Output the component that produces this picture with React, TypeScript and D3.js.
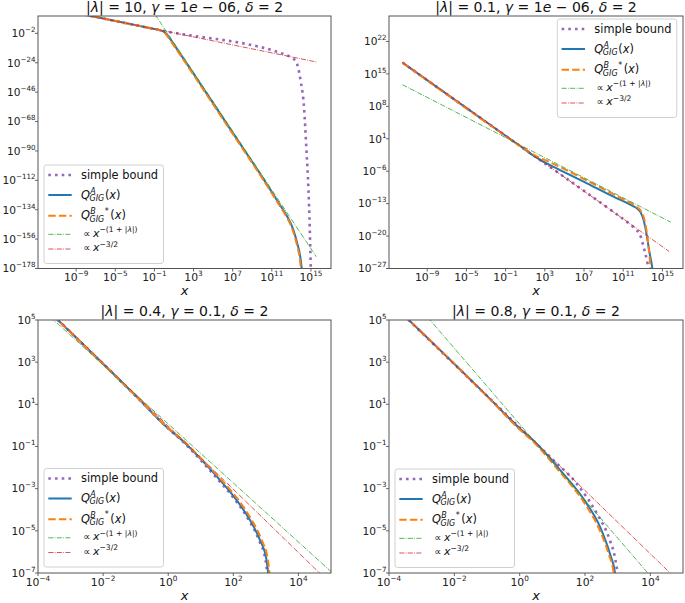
import React from 'react';
import * as d3 from 'd3';

type P = [number, number];

// All points are [log10(x), log10(y)].
// Panel 1: |λ| = 10, γ = 1e-06, δ = 2
const p1Simple: P[] = [[-11.56, 17.1], [0, -0.2], [12.95, -19.6], [13.3, -21.6], [13.62, -25.7], [13.96, -38.2], [14.3, -58.1], [14.53, -88.1], [14.74, -118], [14.88, -148], [14.98, -178], [15.05, -200]];
const p1QA: P[] = [[-11.56, 17.13], [-1.5, 2.05], [-1, 1.3], [-0.5, 0.4], [0, -0.9], [0.3, -3.1], [0.6, -6.1], [1, -10.4], [6.67, -72.7], [10.05, -109.9], [11.75, -129.5], [12.6, -139.5], [13.1, -147], [13.6, -159], [13.96, -172], [14.1, -182], [14.2, -195]];
const p1QB: P[] = [[-11.56, 17.13], [-1.5, 2.05], [-1, 1.3], [-0.55, 0.4], [-0.08, -0.9], [0.22, -3.1], [0.52, -6.1], [0.92, -10.4], [6.59, -72.7], [9.97, -109.9], [11.67, -129.5], [12.52, -139.5], [13.02, -147], [13.52, -159], [13.88, -172], [14.02, -182], [14.12, -195]];
const p1Green: P[] = [[-11.56, 129], [15.55, -169.2]];
const p1Red: P[] = [[-11.56, 17.1], [15.55, -23.4]];

// Panel 2: |λ| = 0.1, γ = 1e-06, δ = 2
const p2Simple: P[] = [[-11.53, 17.45], [0, 0.15], [10.5, -15.55], [11.5, -17.1], [12.1, -18.2], [12.8, -20.2], [13.1, -22.5], [13.45, -25.6], [13.65, -28], [13.8, -31]];
const p2QA: P[] = [[-11.53, 17.45], [0, 0.15], [1.0, -1.35], [1.87, -2.7], [3, -4.1], [4.5, -5.7], [7, -8.3], [10, -11.5], [12, -13.55], [12.5, -14.2], [12.8, -15.0], [13.05, -16.3], [13.3, -18.6], [13.63, -22.9], [13.97, -26.9], [14.1, -29]];
const p2QB: P[] = [[-11.53, 17.45], [0, 0.15], [1.0, -1.3], [1.87, -2.45], [3, -3.55], [5, -5.55], [8, -8.8], [11, -12.1], [12.3, -13.6], [12.8, -14.6], [13.1, -16.0], [13.46, -20.0], [13.8, -26.85], [13.9, -29]];
const p2Green: P[] = [[-11.53, 12.67], [15.85, -17.0]];
const p2Red: P[] = [[-11.53, 17.5], [15.67, -23.3]];

// Panel 3: |λ| = 0.4, γ = 0.1, δ = 2
const p3Simple: P[] = [[-4, 5.9], [-1, 1.4], [0, -0.15], [0.46, -0.78], [1.0, -1.65], [1.56, -2.62], [2.07, -3.56], [2.48, -4.5], [2.79, -5.45], [2.99, -6.4], [3.04, -7.02], [3.07, -7.6]];
const p3QA: P[] = [[-4, 5.9], [-1, 1.4], [0, -0.15], [0.46, -0.75], [1.0, -1.6], [1.59, -2.59], [2.1, -3.54], [2.51, -4.49], [2.82, -5.44], [3.02, -6.39], [3.07, -7.02], [3.1, -7.6]];
const p3QB: P[] = [[-4, 5.9], [-1, 1.4], [0, -0.13], [0.46, -0.72], [1.0, -1.56], [1.62, -2.56], [2.14, -3.5], [2.55, -4.45], [2.86, -5.4], [3.06, -6.37], [3.11, -7.02], [3.14, -7.6]];
const p3Green: P[] = [[-4, 5.67], [5, -6.93]];
const p3Red: P[] = [[-4, 5.97], [5, -7.53]];

// Panel 4: |λ| = 0.8, γ = 0.1, δ = 2
const p4Simple: P[] = [[-4, 5.9], [-1, 1.4], [0, -0.1], [1.0, -1.6], [1.74, -2.75], [2.36, -4.17], [2.76, -5.44], [2.92, -6.3], [2.99, -7.02], [3.02, -7.6]];
const p4QA: P[] = [[-4, 5.9], [-1, 1.4], [0, -0.15], [0.42, -0.72], [1.24, -2.12], [2.05, -3.7], [2.46, -4.81], [2.76, -6.07], [2.92, -7.02], [2.96, -7.6]];
const p4QB: P[] = [[-4, 5.9], [-1, 1.38], [0, -0.2], [0.42, -0.78], [1.2, -2.15], [2.0, -3.72], [2.41, -4.83], [2.72, -6.08], [2.88, -7.02], [2.92, -7.6]];
const p4Green: P[] = [[-4, 7.26], [5, -8.94]];
const p4Red: P[] = [[-4, 5.91], [5, -7.59]];

// Tick exponents
const topXTicks = [-9, -5, -1, 3, 7, 11, 15];
const p1YTicks = [-178, -156, -134, -112, -90, -68, -46, -24, -2];
const p2YTicks = [-27, -20, -13, -6, 1, 8, 15, 22];
const botXTicks = [-4, -2, 0, 2, 4];
const botYTicks = [-7, -5, -3, -1, 1, 3, 5];

// Titles: |λ|, γ, δ
const titleLambda = ['10', '0.1', '0.4', '0.8'];
const titleGamma = [['1', '06'], ['1', '06'], ['0.1', null], ['0.1', null]];
const titleDelta = ['2', '2', '2', '2'];

const FONT = "'DejaVu Sans', 'Liberation Sans', sans-serif";
const C = { simple: '#9467bd', qa: '#1f77b4', qb: '#ff7f0e', green: '#2ca02c', red: '#d62728' };

const STYLE: Record<string, { color: string; width: number; dash?: string }> = {
  simple: { color: C.simple, width: 2.6, dash: '2.6 4.1' },
  qa: { color: C.qa, width: 2 },
  qb: { color: C.qb, width: 2, dash: '7.4 3.2' },
  green: { color: C.green, width: 0.8, dash: '5.1 1.3 0.8 1.3' },
  red: { color: C.red, width: 0.8, dash: '5.1 1.3 0.8 1.3' },
};

interface Cfg {
  idx: number;
  left: number; right: number; top: number; bottom: number;
  xDom: [number, number]; yDom: [number, number];
  xTicks: number[]; yTicks: number[];
  legend: [number, number];
  series: Record<string, P[]>;
}

const panels: Cfg[] = [
  { idx: 0, left: 38, right: 331, top: 16, bottom: 268.5, xDom: [-12.9, 17.05], yDom: [-178, 11], xTicks: topXTicks, yTicks: p1YTicks, legend: [44, 165], series: { simple: p1Simple, qa: p1QA, qb: p1QB, green: p1Green, red: p1Red } },
  { idx: 1, left: 389, right: 683, top: 16, bottom: 268.5, xDom: [-12.9, 17.1], yDom: [-27, 27.5], xTicks: topXTicks, yTicks: p2YTicks, legend: [557.3, 19], series: { simple: p2Simple, qa: p2QA, qb: p2QB, green: p2Green, red: p2Red } },
  { idx: 2, left: 38, right: 331, top: 320, bottom: 573, xDom: [-4, 5], yDom: [-7, 5], xTicks: botXTicks, yTicks: botYTicks, legend: [44, 468.5], series: { simple: p3Simple, qa: p3QA, qb: p3QB, green: p3Green, red: p3Red } },
  { idx: 3, left: 389, right: 683, top: 320, bottom: 573, xDom: [-4, 5], yDom: [-7, 5], xTicks: botXTicks, yTicks: botYTicks, legend: [395, 469], series: { simple: p4Simple, qa: p4QA, qb: p4QB, green: p4Green, red: p4Red } },
];

const supText = (e: number) => (e < 0 ? '\u2212' + Math.abs(e) : String(e));

function Title({ cfg }: { cfg: Cfg }) {
  const cx = (cfg.left + cfg.right) / 2;
  const g = titleGamma[cfg.idx];
  return (
    <text x={cx} y={cfg.top - 4.5} textAnchor="middle" fontSize={14} fill="#111">
      |<tspan fontStyle="italic">λ</tspan>| = {titleLambda[cfg.idx]}, <tspan fontStyle="italic">γ</tspan> = {g[0]}
      {g[1] ? <tspan fontStyle="italic">e</tspan> : null}
      {g[1] ? ` \u2212 ${g[1]}` : ''}, <tspan fontStyle="italic">δ</tspan> = {titleDelta[cfg.idx]}
    </text>
  );
}

function QLabel({ x, y, sup, star }: { x: number; y: number; sup: string; star: boolean }) {
  // Q^{sup}_{GIG}[^*](x) as one text run
  const supW = 5.5;
  return (
    <text x={x} y={y} fontSize={11.4} fill="#111">
      <tspan fontStyle="italic">Q</tspan>
      <tspan dx={0.3} dy={-5} fontSize={8} fontStyle="italic">{sup}</tspan>
      <tspan dx={-supW - 0.7} dy={7.3} fontSize={8} fontStyle="italic">GIG</tspan>
      {star ? <tspan dx={0.5} dy={-7.8} fontSize={8}>*</tspan> : null}
      <tspan dx={star ? 1.5 : 0.6} dy={star ? 5.5 : -2.3}>(</tspan>
      <tspan fontStyle="italic">x</tspan>
      <tspan>)</tspan>
    </text>
  );
}

function Legend({ x0, y0 }: { x0: number; y0: number }) {
  const w = 119.5, h = 98.5;
  const hx1 = x0 + 4.3, hx2 = x0 + 27.7;
  const tx = x0 + 37;
  const rows = [y0 + 10, y0 + 30, y0 + 50.7, y0 + 69.3, y0 + 84];
  const keys = ['simple', 'qa', 'qb', 'green', 'red'];
  return (
    <g>
      <rect x={x0} y={y0} width={w} height={h} rx={2.5} fill="#ffffff" fillOpacity={0.85} stroke="#cccccc" strokeWidth={0.9} />
      {keys.map((k, i) => (
        <line key={k} x1={hx1} x2={hx2} y1={rows[i]} y2={rows[i]} stroke={STYLE[k].color} strokeWidth={STYLE[k].width} strokeDasharray={STYLE[k].dash} />
      ))}
      <text x={tx} y={rows[0] + 3.5} fontSize={11.4} fill="#111">simple bound</text>
      <QLabel x={tx} y={rows[1] + 3.5} sup="A" star={false} />
      <QLabel x={tx} y={rows[2] + 3.5} sup="B" star={true} />
      <text x={x0 + 39.3} y={rows[3] + 2.3} fontSize={10} fill="#111">
        ∝<tspan dx={2.5} fontStyle="italic" fontSize={11}>x</tspan>
        <tspan dy={-4.5} fontSize={7.6}>{'\u2212(1 + |'}<tspan fontStyle="italic">λ</tspan>|)</tspan>
      </text>
      <text x={x0 + 39.3} y={rows[4] + 2.3} fontSize={10} fill="#111">
        ∝<tspan dx={2.5} fontStyle="italic" fontSize={11}>x</tspan>
        <tspan dy={-4.5} fontSize={7.6}>{'\u22123/2'}</tspan>
      </text>
    </g>
  );
}

function Panel({ cfg }: { cfg: Cfg }) {
  const x = d3.scaleLog().domain([10 ** cfg.xDom[0], 10 ** cfg.xDom[1]]).range([cfg.left, cfg.right]);
  const y = d3.scaleLog().domain([10 ** cfg.yDom[0], 10 ** cfg.yDom[1]]).range([cfg.bottom, cfg.top]);
  const line = d3.line<P>().x((d) => x(10 ** d[0])).y((d) => y(10 ** d[1])).curve(d3.curveMonotoneX);
  const clipId = `clip-${cfg.idx}`;
  const order = ['simple', 'qa', 'qb', 'green', 'red'];
  const tickLen = 3;
  return (
    <g fontFamily={FONT}>
      <defs>
        <clipPath id={clipId}>
          <rect x={cfg.left} y={cfg.top} width={cfg.right - cfg.left} height={cfg.bottom - cfg.top} />
        </clipPath>
      </defs>
      <g clipPath={`url(#${clipId})`}>
        {order.map((k) => (
          <path key={k} d={line(cfg.series[k]) || ''} fill="none" stroke={STYLE[k].color} strokeWidth={STYLE[k].width} strokeDasharray={STYLE[k].dash} strokeLinejoin="round" />
        ))}
      </g>
      <rect x={cfg.left} y={cfg.top} width={cfg.right - cfg.left} height={cfg.bottom - cfg.top} fill="none" stroke="#555" strokeWidth={1} />
      {cfg.xTicks.map((e) => {
        const px = x(10 ** e);
        return (
          <g key={'x' + e}>
            <line x1={px} x2={px} y1={cfg.bottom} y2={cfg.bottom + tickLen} stroke="#555" strokeWidth={0.9} />
            <text x={px} y={cfg.bottom + 12.8} textAnchor="middle" fontSize={10.8} fill="#222">
              10<tspan dy={-5} fontSize={7.3}>{supText(e)}</tspan>
            </text>
          </g>
        );
      })}
      {cfg.yTicks.map((e) => {
        const py = y(10 ** e);
        return (
          <g key={'y' + e}>
            <line x1={cfg.left - tickLen} x2={cfg.left} y1={py} y2={py} stroke="#555" strokeWidth={0.9} />
            <text x={cfg.left - 2.5} y={py + 3.8} textAnchor="end" fontSize={10.6} fill="#222">
              10<tspan dy={-5} fontSize={7.1}>{supText(e)}</tspan>
            </text>
          </g>
        );
      })}
      <text x={(cfg.left + cfg.right) / 2} y={cfg.bottom + 26.5} textAnchor="middle" fontSize={13} fontStyle="italic" fill="#111">x</text>
      <Title cfg={cfg} />
      <Legend x0={cfg.legend[0]} y0={cfg.legend[1]} />
    </g>
  );
}

export default function App() {
  return (
    <svg width={685} height={603} style={{ position: 'absolute', left: 0, top: 0, background: '#fff' }} xmlns="http://www.w3.org/2000/svg">
      <rect width={685} height={603} fill="#fff" />
      {panels.map((p) => (
        <Panel key={p.idx} cfg={p} />
      ))}
    </svg>
  );
}
